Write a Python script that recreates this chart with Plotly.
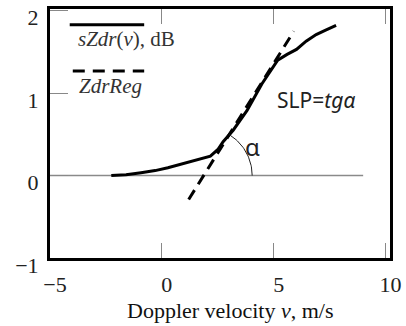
import numpy as np
import plotly.graph_objects as go

# Smoothed differential reflectivity vs Doppler velocity
v_obs = [-2.26, -1.6, -0.93, -0.3, 0.27, 0.9, 1.42, 1.85, 2.17, 2.52, 2.74, 3.19,
         3.81, 4.47, 5.18, 5.6, 6.02, 6.45, 6.90, 7.3, 7.79]
szdr = [0.0, 0.01, 0.035, 0.06, 0.094, 0.14, 0.18, 0.21, 0.235, 0.32, 0.41, 0.55,
        0.79, 1.11, 1.40, 1.47, 1.53, 1.63, 1.71, 1.76, 1.82]

# Linear regression segment (ZdrReg)
reg_v = [1.2, 5.9]
reg_zdr = [-0.29, 1.75]

# Zero reference line
base_v = [-5, 9]
base_zdr = [0, 0]

x_ticks = [-5, 0, 5, 10]
x_ticktext = ["\u22125", "0", "5", "10"]
y_ticks = [-1, 0, 1, 2]
y_ticktext = ["\u22121", "0", "1", "2"]

X_RANGE = [-5, 10.2]
Y_RANGE = [-1, 2.02]
W, H = 406, 326
M = dict(l=50, r=13, t=5, b=68)

serif = "Liberation Serif"
sans = "Noto Sans"

fig = go.Figure()

fig.add_trace(go.Scatter(x=base_v, y=base_zdr, mode="lines",
                         line=dict(color="#8a8a8a", width=1.5), hoverinfo="skip"))
fig.add_trace(go.Scatter(x=reg_v, y=reg_zdr, mode="lines",
                         line=dict(color="black", width=3, dash="11px,7px")))
fig.add_trace(go.Scatter(x=v_obs, y=szdr, mode="lines",
                         line=dict(color="black", width=3)))

# Angle arc between the regression line and the zero line
sx = (W - M["l"] - M["r"]) / (X_RANGE[1] - X_RANGE[0])
sy = (H - M["t"] - M["b"]) / (Y_RANGE[1] - Y_RANGE[0])
slope = (reg_zdr[1] - reg_zdr[0]) / (reg_v[1] - reg_v[0])
v0 = reg_v[0] - reg_zdr[0] / slope
theta = np.arctan(slope * sy / sx)
t = np.linspace(0, theta, 40)
r_px = 49
fig.add_trace(go.Scatter(x=v0 + r_px * np.cos(t) / sx, y=r_px * np.sin(t) / sy,
                         mode="lines", line=dict(color="#222", width=1)))

# Hand-drawn legend
fig.add_shape(type="line", xref="paper", yref="paper", x0=0.058, x1=0.277,
              y0=0.937, y1=0.937, line=dict(color="black", width=3))
fig.add_shape(type="line", xref="paper", yref="paper", x0=0.067, x1=0.277,
              y0=0.751, y1=0.751, line=dict(color="black", width=3, dash="12px,8px"))
fig.add_annotation(xref="paper", yref="paper", x=0.075, y=0.881, xanchor="left",
                   yanchor="middle", showarrow=False,
                   text="<i>sZdr</i>(<i>v</i>), dB",
                   font=dict(family=serif, size=21, color="#333"))
fig.add_annotation(xref="paper", yref="paper", x=0.08, y=0.692, xanchor="left",
                   yanchor="middle", showarrow=False, text="<i>ZdrReg</i>",
                   font=dict(family=serif, size=21, color="#333"))

fig.add_annotation(xref="paper", yref="paper", x=0.662, y=0.636, xanchor="left",
                   yanchor="middle", showarrow=False, text="SLP=<i>tg\u03b1</i>",
                   font=dict(family=sans, size=21, color="#222"))
fig.add_annotation(xref="paper", yref="paper", x=0.595, y=0.447, xanchor="center",
                   yanchor="middle", showarrow=False, text="\u03b1",
                   font=dict(family=sans, size=24, color="#222"))

# x-axis title
fig.add_annotation(xref="paper", yref="paper", x=0.531, y=-0.21, xanchor="center",
                   yanchor="middle", showarrow=False,
                   text="Doppler velocity <i>v</i>, m/s",
                   font=dict(family=serif, size=22, color="#111"))

fig.update_layout(
    width=W, height=H, margin=M, showlegend=False,
    paper_bgcolor="white", plot_bgcolor="white",
    xaxis=dict(range=X_RANGE, tickvals=x_ticks, ticktext=x_ticktext,
               showgrid=False, zeroline=False, showline=True, linewidth=3,
               linecolor="black", mirror="ticks", ticks="inside", ticklen=15,
               tickwidth=1, tickcolor="#888", ticklabelshift=5, ticklabelstandoff=5,
               tickfont=dict(family=serif, size=22, color="#222")),
    yaxis=dict(range=Y_RANGE, tickvals=y_ticks, ticktext=y_ticktext,
               showgrid=False, zeroline=False, showline=True, linewidth=3,
               linecolor="black", mirror=True, ticks="inside", ticklen=18,
               tickwidth=1, tickcolor="#888", ticklabelshift=7, ticklabelstandoff=4,
               tickfont=dict(family=serif, size=22, color="#222")),
)

fig.write_html("out.html")
